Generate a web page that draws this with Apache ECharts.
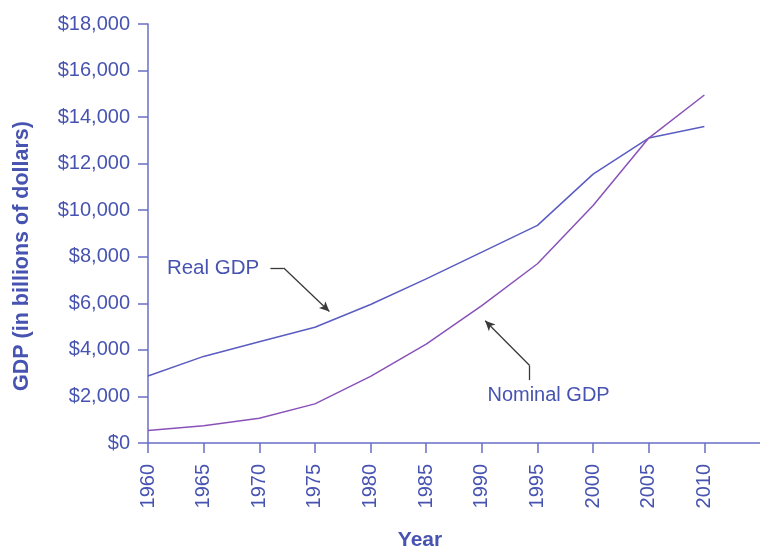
<!DOCTYPE html>
<html>
<head>
<meta charset="utf-8">
<script src="https://cdn.jsdelivr.net/npm/echarts@6/dist/echarts.min.js"></script>
<style>
html,body{margin:0;padding:0;background:#fff;}
#chart{width:760px;height:553px;}
</style>
</head>
<body>
<div id="chart"></div>
<script>
// Data
var years = [1960, 1965, 1970, 1975, 1980, 1985, 1990, 1995, 2000, 2005, 2010];
var realGDP = [2880, 3720, 4350, 4970, 5950, 7050, 8200, 9350, 11550, 13100, 13600];
var nominalGDP = [540, 740, 1060, 1680, 2860, 4250, 5900, 7700, 10200, 13100, 14950];
var yTicks = [0, 2000, 4000, 6000, 8000, 10000, 12000, 14000, 16000, 18000];
var xTicks = [1960, 1965, 1970, 1975, 1980, 1985, 1990, 1995, 2000, 2005, 2010];

// Annotation anchors (data units)
var realLabelAt = [1961.7, 7450];
var realArrow = [[1971.0, 7520], [1972.2, 7520], [1976.3, 5650]];
var nominalLabelAt = [1996.0, 2060];
var nominalArrow = [[1994.3, 2700], [1994.3, 3330], [1990.3, 5250]];

var TXT = '#4753b0';
var AX = '#6a6fc6';
var FONT = '"Liberation Sans", Arial, sans-serif';

function pairs(xs, ys) { return xs.map(function (x, i) { return [x, ys[i]]; }); }

function arrowLines(pts) {
  var out = [];
  for (var i = 0; i < pts.length - 1; i++) {
    var last = i === pts.length - 2;
    out.push([
      { coord: pts[i], symbol: 'none' },
      { coord: pts[i + 1], symbol: last ? 'arrow' : 'none', symbolSize: last ? [7, 10] : 0 }
    ]);
  }
  return out;
}

var chart = echarts.init(document.getElementById('chart'), null, { renderer: 'canvas' });

var option = {
  animation: false,
  backgroundColor: '#ffffff',
  grid: { left: 148, top: 24, right: 0, bottom: 110 },
  xAxis: {
    type: 'value',
    min: 1960, max: 2015, interval: 5,
    axisLine: { show: true, lineStyle: { color: AX, width: 1.5 } },
    axisTick: { show: true, length: 10, customValues: xTicks, lineStyle: { color: AX, width: 1.5 } },
    splitLine: { show: false },
    axisLabel: {
      customValues: xTicks,
      rotate: 90, margin: 21,
      color: TXT, fontSize: 20, fontFamily: FONT,
      formatter: function (v) { return String(v); }
    }
  },
  yAxis: {
    type: 'value',
    min: 0, max: 18000, interval: 2000,
    axisLine: { show: true, lineStyle: { color: AX, width: 1.5 } },
    axisTick: { show: true, length: 10, customValues: yTicks, lineStyle: { color: AX, width: 1.5 } },
    splitLine: { show: false },
    axisLabel: {
      customValues: yTicks,
      margin: 18,
      color: TXT, fontSize: 20, fontFamily: FONT,
      formatter: function (v) { return '$' + v.toLocaleString('en-US'); }
    }
  },
  series: [
    {
      name: 'Real GDP', type: 'line', data: pairs(years, realGDP),
      showSymbol: false, symbol: 'none',
      lineStyle: { color: '#5b5cc2', width: 1.5 },
      markLine: {
        silent: true, animation: false,
        label: { show: false },
        lineStyle: { color: '#3a3a3a', width: 1.3, type: 'solid' },
        data: arrowLines(realArrow)
      }
    },
    {
      name: 'Nominal GDP', type: 'line', data: pairs(years, nominalGDP),
      showSymbol: false, symbol: 'none',
      lineStyle: { color: '#8a52b8', width: 1.5 },
      markLine: {
        silent: true, animation: false,
        label: { show: false },
        lineStyle: { color: '#3a3a3a', width: 1.3, type: 'solid' },
        data: arrowLines(nominalArrow)
      }
    }
  ]
};
chart.setOption(option);

var pReal = chart.convertToPixel({ gridIndex: 0 }, realLabelAt);
var pNom = chart.convertToPixel({ gridIndex: 0 }, nominalLabelAt);

chart.setOption({
  graphic: [
    {
      type: 'text', left: pReal[0], top: pReal[1] - 12,
      style: { text: 'Real GDP', fill: TXT, font: '20.5px ' + FONT }
    },
    {
      type: 'text', x: pNom[0], y: pNom[1],
      style: { text: 'Nominal GDP', fill: TXT, font: '20px ' + FONT, align: 'center', verticalAlign: 'middle' }
    },
    {
      type: 'text', x: 22, y: 256, rotation: Math.PI / 2,
      style: { text: 'GDP (in billions of dollars)', fill: TXT, font: 'bold 21.5px ' + FONT, align: 'center', verticalAlign: 'middle' }
    },
    {
      type: 'text', x: 420, y: 540,
      style: { text: 'Year', fill: TXT, font: 'bold 21px ' + FONT, align: 'center', verticalAlign: 'middle' }
    }
  ]
});
</script>
</body>
</html>
